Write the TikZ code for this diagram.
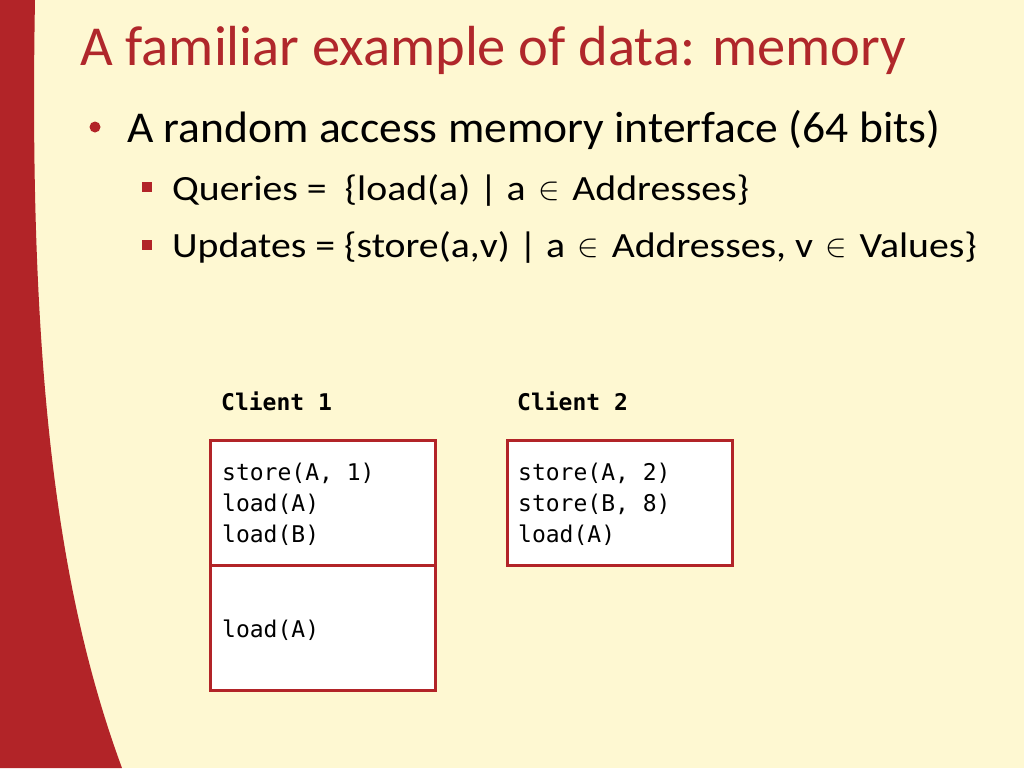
\documentclass[tikz,border=0pt]{standalone}
\usepackage{fontspec}
\usepackage{graphicx}
\setmainfont{Carlito}
\newfontfamily\lvlonefont[FakeStretch=1.035]{Carlito}
\newfontfamily\lvltwofont[FakeStretch=1.12]{Carlito}
\newfontfamily\monofont{DejaVu Sans Mono}
\definecolor{cream}{HTML}{FEF8D2}
\definecolor{slidered}{HTML}{B22428}
\definecolor{titlered}{HTML}{B0272B}
\newcommand{\elemof}{\hspace{0.1em}\raisebox{0.02em}{\scalebox{1.3}{$\in$}}\hspace{0.1em}}
\begin{document}
\begin{tikzpicture}[x=1pt,y=-1pt,
  titletext/.style={inner sep=0pt,anchor=base west,text=titlered,font=\fontsize{56.5}{66}\selectfont},
  lvlone/.style={inner sep=0pt,anchor=base west,font=\lvlonefont\fontsize{44}{52}\selectfont},
  lvltwo/.style={inner sep=0pt,anchor=base west,font=\lvltwofont\fontsize{35.5}{43}\selectfont},
  dotbullet/.style={circle,fill=slidered,inner sep=0pt,minimum size=11pt},
  sqbullet/.style={rectangle,fill=slidered,inner sep=0pt,minimum size=10pt},
  clientlabel/.style={inner sep=0pt,anchor=base west,font=\monofont\bfseries\fontsize{23}{27}\selectfont},
  codeline/.style={inner sep=0pt,anchor=base west,font=\monofont\fontsize{23}{31}\selectfont,align=left},
  opbox/.style={draw=slidered,line width=3pt,fill=white}
]
\useasboundingbox (0,0) rectangle (1024,768);
\fill[cream] (0,0) rectangle (1024,768);
\fill[slidered] (0,0) -- (35,0) .. controls (28,380) and (60,600) .. (122,768) -- (0,768) -- cycle;

\node[titletext] (title) at (80,66) {A familiar example of data: memory};
\node[dotbullet] (b1) at (95,127) {};
\node[lvlone] (l1) at (127,142) {A random access memory interface (64 bits)};
\node[sqbullet] (b2) at (147,187) {};
\node[lvltwo] (l2) at (172,200) {Queries =\ \ \{load(a) | a \elemof{} Addresses\}};
\node[sqbullet] (b3) at (147,245) {};
\node[lvltwo] (l3) at (172,257) {Updates = \{store(a,v) | a \elemof{} Addresses, v \elemof{} Values\}};

\node[clientlabel] (c1) at (221,410) {Client 1};
\node[clientlabel] (c2) at (517,410) {Client 2};

\draw[opbox] (210,440) rectangle (435,565);
\draw[opbox] (210,565) rectangle (435,690);
\draw[opbox] (507,440) rectangle (732,565);

\node[codeline] (s1a) at (222,480) {store(A, 1)};
\node[codeline] (s1b) at (222,511) {load(A)};
\node[codeline] (s1c) at (222,542) {load(B)};
\node[codeline] (s1d) at (222,637) {load(A)};
\node[codeline] (s2a) at (518,480) {store(A, 2)};
\node[codeline] (s2b) at (518,511) {store(B, 8)};
\node[codeline] (s2c) at (518,542) {load(A)};
\end{tikzpicture}
\end{document}
